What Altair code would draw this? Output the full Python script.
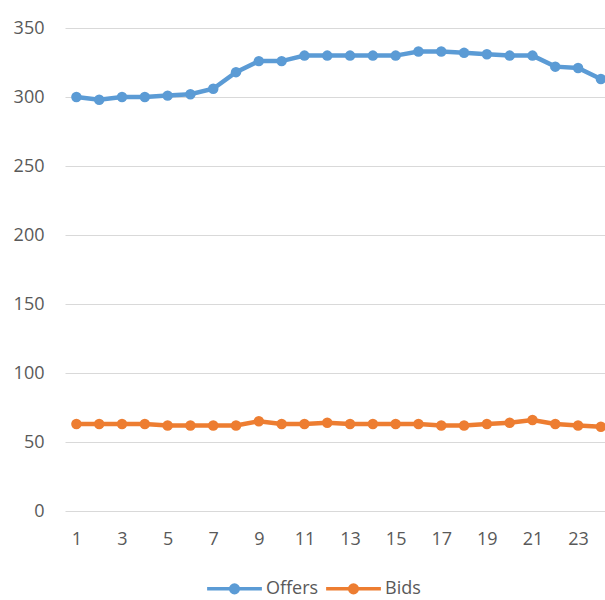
import altair as alt
import pandas as pd

# Hourly volumes, hours 1-24
hours = list(range(1, 25))
offers = [300, 298, 300, 300, 301, 302, 306, 318, 326, 326, 330, 330,
          330, 330, 330, 333, 333, 332, 331, 330, 330, 322, 321, 313]
bids = [63, 63, 63, 63, 62, 62, 62, 62, 65, 63, 63, 64,
        63, 63, 63, 63, 62, 62, 63, 64, 66, 63, 62, 61]
series_names = ["Offers", "Bids"]
series_colors = ["#5B9BD5", "#ED7D31"]
x_tick_values = list(range(1, 24, 2))
y_tick_values = list(range(0, 351, 50))

df = pd.concat([
    pd.DataFrame({"hour": hours, "value": offers, "series": "Offers"}),
    pd.DataFrame({"hour": hours, "value": bids, "series": "Bids"}),
])

FONT = "Open Sans"
FONT_SIZE = 18
LABEL_COLOR = "#595959"
GRID_COLOR = "#D9D9D9"

# legend glyph: a line wider than the symbol box with a solid dot in the
# middle (concentric rings so the stroked path reads as a filled dot)
legend_glyph = (
    "M-2,0H2"
    "M-0.28,0A0.28,0.28,0,1,1,0.28,0A0.28,0.28,0,1,1,-0.28,0Z"
    "M-0.14,0A0.14,0.14,0,1,1,0.14,0A0.14,0.14,0,1,1,-0.14,0Z"
    "M-0.02,0A0.02,0.02,0,1,1,0.02,0A0.02,0.02,0,1,1,-0.02,0Z"
)

stroke = alt.Stroke(
    "series:N",
    scale=alt.Scale(domain=series_names, range=series_colors),
    sort=series_names,
    legend=alt.Legend(
        title=None,
        orient="none",
        direction="horizontal",
        legendX=154,
        legendY=545,
        symbolType=legend_glyph,
        symbolSize=750,
        symbolStrokeWidth=3.5,
        symbolOpacity=1,
        labelFont=FONT,
        labelFontSize=FONT_SIZE,
        labelColor=LABEL_COLOR,
        labelOffset=16,
        columnPadding=0,
    ),
)
fill = alt.Fill(
    "series:N",
    scale=alt.Scale(domain=series_names, range=series_colors),
    legend=None,
)

x = alt.X(
    "hour:Q",
    scale=alt.Scale(domain=[0.5, 24.18], nice=False, zero=False),
    axis=alt.Axis(
        title=None,
        values=x_tick_values,
        grid=False,
        ticks=False,
        domain=False,
        labelFont=FONT,
        labelFontSize=FONT_SIZE,
        labelColor=LABEL_COLOR,
        labelPadding=19,
    ),
)
y = alt.Y(
    "value:Q",
    scale=alt.Scale(domain=[0, 350], nice=False),
    axis=alt.Axis(
        title=None,
        values=y_tick_values,
        grid=True,
        gridColor=GRID_COLOR,
        gridWidth=1,
        ticks=False,
        domain=False,
        labelFont=FONT,
        labelFontSize=FONT_SIZE,
        labelColor=LABEL_COLOR,
        labelPadding=21,
    ),
)

lines = alt.Chart(df).mark_line(strokeWidth=4.5, clip=True).encode(
    x=x, y=y, stroke=stroke, detail="series:N"
)
points = alt.Chart(df).mark_point(
    filled=True, size=110, opacity=1, clip=True
).encode(x=x, y=y, fill=fill)

chart = (
    alt.layer(lines, points)
    .properties(
        width=540,
        height=483,
        autosize=alt.AutoSizeParams(type="none"),
        padding={"left": 65, "top": 28, "right": 0, "bottom": 89},
        background="white",
    )
    .configure_view(stroke=None)
)

chart.save("out.html", embed_options={"renderer": "svg", "actions": False})
